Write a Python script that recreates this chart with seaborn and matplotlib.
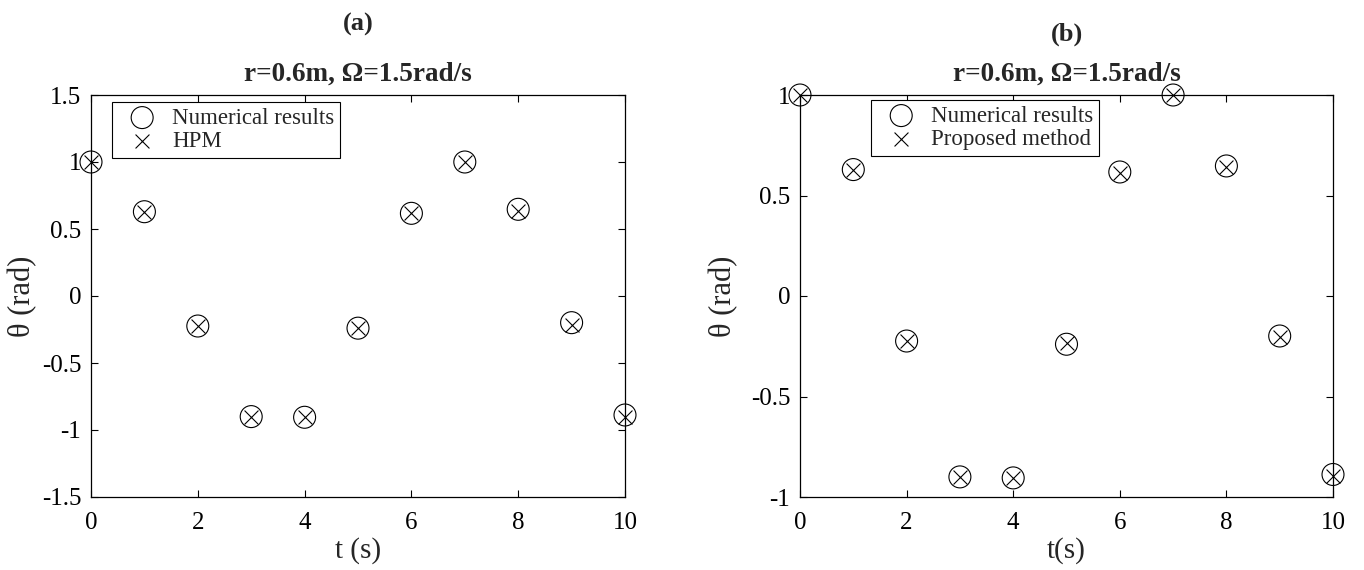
import numpy as np
import pandas as pd
import matplotlib
matplotlib.use("Agg")
import matplotlib.pyplot as plt
from matplotlib.ticker import FormatStrFormatter
import seaborn as sns

# ---- data ----
t = [0, 1, 2, 3, 4, 5, 6, 7, 8, 9, 10]
numerical = [1.0, 0.629, -0.224, -0.90, -0.905, -0.240, 0.617, 1.0, 0.647, -0.199, -0.888]
hpm = [1.0, 0.629, -0.224, -0.90, -0.905, -0.240, 0.617, 1.0, 0.632, -0.215, -0.903]
proposed = [1.0, 0.629, -0.222, -0.899, -0.907, -0.236, 0.614, 1.0, 0.642, -0.205, -0.897]

panel_labels = ["(a)", "(b)"]
subtitle = "r=0.6m, \u03a9=1.5rad/s"
xlabels = ["t (s)", "t(s)"]
ylabel = "\u03b8 (rad)"
method_names = ["HPM", "Proposed method"]
ylims = [(-1.5, 1.5), (-1, 1)]
yticks = [[-1.5, -1, -0.5, 0, 0.5, 1, 1.5], [-1, -0.5, 0, 0.5, 1]]
xticks = [0, 2, 4, 6, 8, 10]

sns.set_style("ticks")
plt.rcParams["font.family"] = ["Liberation Serif", "DejaVu Serif"]
plt.rcParams["axes.unicode_minus"] = False

fig = plt.figure(figsize=(13.64, 5.70), dpi=100)
W, H = 1364, 570
boxes = [(91, 625), (800, 1333)]
top_px, bot_px = 95, 497
legend_anchor = [(0.040, 0.983), (0.134, 0.988)]
ylabel_x = [-0.101, -0.116]
panel_label_y = [24, 34]

method_series = [hpm, proposed]

for i in range(2):
    l, r = boxes[i]
    ax = fig.add_axes([l / W, (H - bot_px) / H, (r - l) / W, (bot_px - top_px) / H])
    df = pd.DataFrame({"t": t, "num": numerical, "m": method_series[i]})
    sns.scatterplot(data=df, x="t", y="num", marker="o", s=250,
                    facecolors="none", edgecolors="black", linewidths=0.8,
                    label="Numerical results", ax=ax, clip_on=False, zorder=3)
    sns.scatterplot(data=df, x="t", y="m", marker="x", s=100,
                    color="black", linewidths=0.8,
                    label=method_names[i], ax=ax, clip_on=False, zorder=4)
    ax.set_xlim(0, 10)
    ax.set_ylim(*ylims[i])
    ax.set_xticks(xticks)
    ax.set_yticks(yticks[i])
    ax.yaxis.set_major_formatter(FormatStrFormatter("%g"))
    ax.tick_params(direction="in", length=5, width=0.8, top=True, right=True,
                   labelsize=18, colors="black", pad=11)
    ax.tick_params(axis="y", pad=7)
    for sp in ax.spines.values():
        sp.set_visible(True)
        sp.set_linewidth(0.9)
        sp.set_color("black")
    ax.set_xlabel(xlabels[i], fontsize=21, labelpad=2)
    ax.set_ylabel(ylabel, fontsize=22)
    ax.yaxis.set_label_coords(ylabel_x[i], 0.5)
    ax.set_title(subtitle, fontsize=19.5, fontweight="bold", pad=10)
    leg = ax.legend(loc="upper left", bbox_to_anchor=legend_anchor[i],
                    fontsize=16.5, frameon=True, fancybox=False, framealpha=1,
                    edgecolor="black", borderpad=0.25, labelspacing=0.12,
                    handletextpad=0.25, borderaxespad=0.0, handlelength=2.1)
    leg.get_frame().set_linewidth(0.8)
    cx = (l + r) / 2 / W
    fig.text(cx, 1 - panel_label_y[i] / H, panel_labels[i], ha="center", va="center",
             fontsize=19, fontweight="bold")

fig.savefig("out.png", dpi=100)
